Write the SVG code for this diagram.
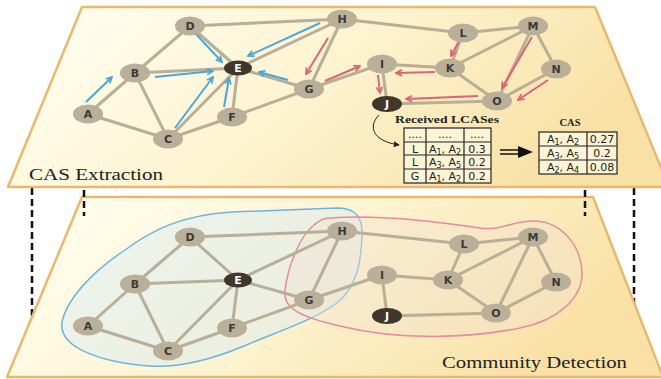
<svg xmlns="http://www.w3.org/2000/svg" width="661" height="379" viewBox="0 0 661 379">
<defs>
<linearGradient id="plane" x1="0" y1="0" x2="1" y2="0.3">
<stop offset="0" stop-color="#fffff4"/>
<stop offset="0.55" stop-color="#fdf3cf"/>
<stop offset="1" stop-color="#f9e1a6"/>
</linearGradient>
<marker id="ab" viewBox="0 0 8 8" refX="7" refY="4" markerWidth="8" markerHeight="8" markerUnits="userSpaceOnUse" orient="auto">
<path d="M1,1 L7,4 L1,7" fill="none" stroke="#4aa6dc" stroke-width="1.8"/>
</marker>
<marker id="ar" viewBox="0 0 8 8" refX="7" refY="4" markerWidth="8" markerHeight="8" markerUnits="userSpaceOnUse" orient="auto">
<path d="M1,1 L7,4 L1,7" fill="none" stroke="#dc6479" stroke-width="1.8"/>
</marker>
<marker id="ak" viewBox="0 0 8 8" refX="7" refY="4" markerWidth="6" markerHeight="6" markerUnits="userSpaceOnUse" orient="auto">
<path d="M0,0 L8,4 L0,8 Z" fill="#222"/>
</marker>
</defs>
<style>
.plane{fill:url(#plane);stroke:#e8b96c;stroke-width:2.5;stroke-linejoin:round}
.e{stroke:#b9ae97;stroke-width:3;fill:none}
.n ellipse{fill:#bab09a}
.n text{font-family:"DejaVu Sans",Verdana,sans-serif;font-weight:bold;font-size:11px;fill:#3b3a36;text-anchor:middle}
.d ellipse{fill:#3f372b}
.d text{fill:#ffffff}
.ba{stroke:#4aa6dc;stroke-width:2;fill:none;marker-end:url(#ab)}
.ra{stroke:#dc6479;stroke-width:2;fill:none;marker-end:url(#ar)}
.dash{stroke:#111;stroke-width:2.5;stroke-dasharray:7 4;fill:none}
.lbl{font-family:"Liberation Serif","Times New Roman",serif;font-size:16px;fill:#222}
.tt{font-family:"Liberation Serif","Times New Roman",serif;font-weight:bold;font-size:10.5px;fill:#222}
.tb{fill:#fdf4d6;stroke:#222;stroke-width:1.2}
.tl{stroke:#222;stroke-width:1.2}
.tx{font-family:"DejaVu Sans",Verdana,sans-serif;font-size:11px;fill:#222;text-anchor:middle}
.sb{font-size:8px;baseline-shift:-2px}
</style>

<!-- dashed connectors between planes -->
<g id="dashes">
<line class="dash" x1="32" y1="188" x2="32" y2="360"/>
<line class="dash" x1="634" y1="188" x2="634" y2="360"/>
</g>

<!-- bottom plane -->
<g id="bottom-plane">
<polygon class="plane" points="82,197 593,197 663,377 7,377"/>
<path id="community-blue" d="M62,322 C68,295 98,268 125,250 C152,230 182,215 232,212 L338,208 C356,208 363,218 362,236 C361,262 357,286 338,302 C318,318 282,330 244,346 C208,361 178,368 150,366 C108,363 58,350 62,322 Z" fill="#dcecf2" fill-opacity="0.5" stroke="#6cb3e0" stroke-width="1.5"/>
<path id="community-pink" d="M330,218 C380,214 440,222 480,228 C502,231 514,220 535,221 C562,222 581,246 582,272 C583,300 555,321 520,328 C470,338 400,341 340,326 C300,317 282,308 285,290 C288,266 300,236 313,226 C318,221 324,218 330,218 Z" fill="#f3e2cf" fill-opacity="0.4" stroke="#e58aa0" stroke-width="1.5"/>
<line class="dash" x1="84" y1="190" x2="84" y2="216"/>
<line class="dash" x1="585" y1="190" x2="585" y2="216"/>
<text class="lbl" x="442" y="368" textLength="185" lengthAdjust="spacingAndGlyphs">Community Detection</text>
</g>

<g id="bottom-edges">
<line class="e" x1="88" y1="326" x2="135" y2="284"/>
<line class="e" x1="88" y1="326" x2="168" y2="351"/>
<line class="e" x1="135" y1="284" x2="190" y2="237"/>
<line class="e" x1="135" y1="284" x2="238" y2="280"/>
<line class="e" x1="135" y1="284" x2="168" y2="351"/>
<line class="e" x1="168" y1="351" x2="238" y2="280"/>
<line class="e" x1="168" y1="351" x2="232" y2="328"/>
<line class="e" x1="190" y1="237" x2="238" y2="280"/>
<line class="e" x1="190" y1="237" x2="342" y2="231"/>
<line class="e" x1="238" y1="280" x2="232" y2="328"/>
<line class="e" x1="238" y1="280" x2="342" y2="231"/>
<line class="e" x1="238" y1="280" x2="309" y2="300"/>
<line class="e" x1="232" y1="328" x2="309" y2="300"/>
<line class="e" x1="309" y1="300" x2="342" y2="231"/>
<line class="e" x1="309" y1="300" x2="382" y2="275"/>
<line class="e" x1="342" y1="231" x2="464" y2="244"/>
<line class="e" x1="382" y1="275" x2="448" y2="280"/>
<line class="e" x1="382" y1="275" x2="387" y2="316"/>
<line class="e" x1="387" y1="316" x2="496" y2="313"/>
<line class="e" x1="448" y1="280" x2="464" y2="244"/>
<line class="e" x1="448" y1="280" x2="533" y2="237"/>
<line class="e" x1="448" y1="280" x2="496" y2="313"/>
<line class="e" x1="464" y1="244" x2="533" y2="237"/>
<line class="e" x1="533" y1="237" x2="496" y2="313"/>
<line class="e" x1="533" y1="237" x2="556" y2="282"/>
<line class="e" x1="556" y1="282" x2="496" y2="313"/>
</g>

<g id="bottom-nodes">
<g id="bA" class="n"><ellipse cx="88" cy="326" rx="15" ry="9.5"/><text x="88" y="330">A</text></g>
<g id="bB" class="n"><ellipse cx="135" cy="284" rx="15" ry="9.5"/><text x="135" y="288">B</text></g>
<g id="bC" class="n"><ellipse cx="168" cy="351" rx="15" ry="9.5"/><text x="168" y="355">C</text></g>
<g id="bD" class="n"><ellipse cx="190" cy="237" rx="15" ry="9.5"/><text x="190" y="241">D</text></g>
<g id="bE" class="n d"><ellipse cx="238" cy="280" rx="14" ry="7.5"/><text x="238" y="284">E</text></g>
<g id="bF" class="n"><ellipse cx="232" cy="328" rx="15" ry="9.5"/><text x="232" y="332">F</text></g>
<g id="bG" class="n"><ellipse cx="309" cy="300" rx="15" ry="9.5"/><text x="309" y="304">G</text></g>
<g id="bH" class="n"><ellipse cx="342" cy="231" rx="15" ry="9.5"/><text x="342" y="235">H</text></g>
<g id="bI" class="n"><ellipse cx="382" cy="275" rx="15" ry="9.5"/><text x="382" y="279">I</text></g>
<g id="bJ" class="n d"><ellipse cx="387" cy="316" rx="15" ry="8"/><text x="387" y="320">J</text></g>
<g id="bK" class="n"><ellipse cx="448" cy="280" rx="15" ry="9.5"/><text x="448" y="284">K</text></g>
<g id="bL" class="n"><ellipse cx="464" cy="244" rx="15" ry="9.5"/><text x="464" y="248">L</text></g>
<g id="bM" class="n"><ellipse cx="533" cy="237" rx="15" ry="9.5"/><text x="533" y="241">M</text></g>
<g id="bN" class="n"><ellipse cx="556" cy="282" rx="15" ry="9.5"/><text x="556" y="286">N</text></g>
<g id="bO" class="n"><ellipse cx="496" cy="313" rx="15" ry="9.5"/><text x="496" y="317">O</text></g>
</g>

<!-- top plane -->
<g id="top-plane">
<polygon class="plane" points="82,7 595,7 669,187 8,187"/>
<text class="lbl" x="29" y="180" textLength="134" lengthAdjust="spacingAndGlyphs">CAS Extraction</text>
</g>

<g id="top-edges">
<line class="e" x1="88" y1="114" x2="135" y2="73"/>
<line class="e" x1="88" y1="114" x2="168" y2="139"/>
<line class="e" x1="135" y1="73" x2="190" y2="26"/>
<line class="e" x1="135" y1="73" x2="238" y2="68"/>
<line class="e" x1="135" y1="73" x2="168" y2="139"/>
<line class="e" x1="168" y1="139" x2="238" y2="68"/>
<line class="e" x1="168" y1="139" x2="232" y2="117"/>
<line class="e" x1="190" y1="26" x2="238" y2="68"/>
<line class="e" x1="190" y1="26" x2="342" y2="19"/>
<line class="e" x1="238" y1="68" x2="232" y2="117"/>
<line class="e" x1="238" y1="68" x2="342" y2="19"/>
<line class="e" x1="238" y1="68" x2="309" y2="89"/>
<line class="e" x1="232" y1="117" x2="309" y2="89"/>
<line class="e" x1="309" y1="89" x2="342" y2="19"/>
<line class="e" x1="309" y1="89" x2="382" y2="64"/>
<line class="e" x1="342" y1="19" x2="463" y2="33"/>
<line class="e" x1="382" y1="64" x2="450" y2="68"/>
<line class="e" x1="382" y1="64" x2="387" y2="104"/>
<line class="e" x1="387" y1="104" x2="497" y2="101"/>
<line class="e" x1="450" y1="68" x2="463" y2="33"/>
<line class="e" x1="450" y1="68" x2="533" y2="26"/>
<line class="e" x1="450" y1="68" x2="497" y2="101"/>
<line class="e" x1="463" y1="33" x2="533" y2="26"/>
<line class="e" x1="533" y1="26" x2="497" y2="101"/>
<line class="e" x1="533" y1="26" x2="556" y2="69"/>
<line class="e" x1="556" y1="69" x2="497" y2="101"/>
</g>

<g id="flow-arrows">
<line class="ba" x1="195" y1="33" x2="222" y2="62"/>
<line class="ba" x1="155" y1="77" x2="213" y2="71"/>
<line class="ba" x1="86" y1="102" x2="112" y2="77"/>
<line class="ba" x1="175" y1="128" x2="213" y2="77"/>
<line class="ba" x1="224" y1="107" x2="229" y2="78"/>
<line class="ba" x1="320" y1="23" x2="248" y2="56"/>
<line class="ba" x1="288" y1="80" x2="259" y2="72"/>
<line class="ra" x1="328" y1="38" x2="306" y2="74"/>
<line class="ra" x1="325" y1="81" x2="360" y2="66"/>
<line class="ra" x1="435" y1="72" x2="396" y2="73"/>
<line class="ra" x1="459" y1="41" x2="451" y2="56"/>
<line class="ra" x1="378" y1="75" x2="380" y2="93"/>
<line class="ra" x1="478" y1="96" x2="406" y2="99"/>
<line class="ra" x1="532" y1="37" x2="502" y2="88"/>
<line class="ra" x1="548" y1="80" x2="518" y2="100"/>
<path d="M379,115 C368,126 372,141 399,145" fill="none" stroke="#222" stroke-width="1" marker-end="url(#ak)"/>
</g>

<g id="top-nodes">
<g id="tA" class="n"><ellipse cx="88" cy="114" rx="15" ry="9.5"/><text x="88" y="118">A</text></g>
<g id="tB" class="n"><ellipse cx="135" cy="73" rx="15" ry="9.5"/><text x="135" y="77">B</text></g>
<g id="tC" class="n"><ellipse cx="168" cy="139" rx="15" ry="9.5"/><text x="168" y="143">C</text></g>
<g id="tD" class="n"><ellipse cx="190" cy="26" rx="15" ry="9.5"/><text x="190" y="30">D</text></g>
<g id="tE" class="n d"><ellipse cx="238" cy="68" rx="14" ry="7.5"/><text x="238" y="72">E</text></g>
<g id="tF" class="n"><ellipse cx="232" cy="117" rx="15" ry="9.5"/><text x="232" y="121">F</text></g>
<g id="tG" class="n"><ellipse cx="309" cy="89" rx="15" ry="9.5"/><text x="309" y="93">G</text></g>
<g id="tH" class="n"><ellipse cx="342" cy="19" rx="15" ry="9.5"/><text x="342" y="23">H</text></g>
<g id="tI" class="n"><ellipse cx="382" cy="64" rx="15" ry="9.5"/><text x="382" y="68">I</text></g>
<g id="tJ" class="n d"><ellipse cx="387" cy="104" rx="15" ry="8"/><text x="387" y="108">J</text></g>
<g id="tK" class="n"><ellipse cx="450" cy="68" rx="15" ry="9.5"/><text x="450" y="72">K</text></g>
<g id="tL" class="n"><ellipse cx="463" cy="33" rx="15" ry="9.5"/><text x="463" y="37">L</text></g>
<g id="tM" class="n"><ellipse cx="533" cy="26" rx="15" ry="9.5"/><text x="533" y="30">M</text></g>
<g id="tN" class="n"><ellipse cx="556" cy="69" rx="15" ry="9.5"/><text x="556" y="73">N</text></g>
<g id="tO" class="n"><ellipse cx="497" cy="101" rx="15" ry="9.5"/><text x="497" y="105">O</text></g>
</g>

<g id="received-table">
<text class="tt" x="395" y="123" textLength="104" lengthAdjust="spacingAndGlyphs">Received  LCASes</text>
<rect class="tb" x="404" y="128" width="87" height="55"/>
<line class="tl" x1="404" y1="142" x2="491" y2="142"/>
<line class="tl" x1="404" y1="155" x2="491" y2="155"/>
<line class="tl" x1="404" y1="169" x2="491" y2="169"/>
<line class="tl" x1="426" y1="128" x2="426" y2="183"/>
<line class="tl" x1="464" y1="128" x2="464" y2="183"/>
<text class="tx" x="415" y="138" font-size="8">....</text>
<text class="tx" x="445" y="138" font-size="8">....</text>
<text class="tx" x="477" y="138" font-size="8">....</text>
<text class="tx" x="415" y="152.5">L</text>
<text class="tx" x="445" y="152.5">A<tspan class="sb">1</tspan>, A<tspan class="sb">2</tspan></text>
<text class="tx" x="477" y="152.5">0.3</text>
<text class="tx" x="415" y="166">L</text>
<text class="tx" x="445" y="166">A<tspan class="sb">3</tspan>, A<tspan class="sb">5</tspan></text>
<text class="tx" x="477" y="166">0.2</text>
<text class="tx" x="415" y="180">G</text>
<text class="tx" x="445" y="180">A<tspan class="sb">1</tspan>, A<tspan class="sb">2</tspan></text>
<text class="tx" x="477" y="180">0.2</text>
</g>

<g id="implies">
<line x1="500" y1="150" x2="520" y2="150" stroke="#111" stroke-width="1.5"/>
<line x1="500" y1="154" x2="520" y2="154" stroke="#111" stroke-width="1.5"/>
<path d="M518,146 L533,152 L518,158 Z" fill="#111"/>
</g>

<g id="cas-table">
<text class="tt" x="570" y="126" text-anchor="middle">CAS</text>
<rect class="tb" x="539" y="132" width="78" height="42"/>
<line class="tl" x1="539" y1="146" x2="617" y2="146"/>
<line class="tl" x1="539" y1="160" x2="617" y2="160"/>
<line class="tl" x1="587" y1="132" x2="587" y2="174"/>
<text class="tx" x="563" y="143">A<tspan class="sb">1</tspan>, A<tspan class="sb">2</tspan></text>
<text class="tx" x="602" y="143">0.27</text>
<text class="tx" x="563" y="157">A<tspan class="sb">3</tspan>, A<tspan class="sb">5</tspan></text>
<text class="tx" x="602" y="157">0.2</text>
<text class="tx" x="563" y="171">A<tspan class="sb">2</tspan>, A<tspan class="sb">4</tspan></text>
<text class="tx" x="602" y="171">0.08</text>
</g>
</svg>
